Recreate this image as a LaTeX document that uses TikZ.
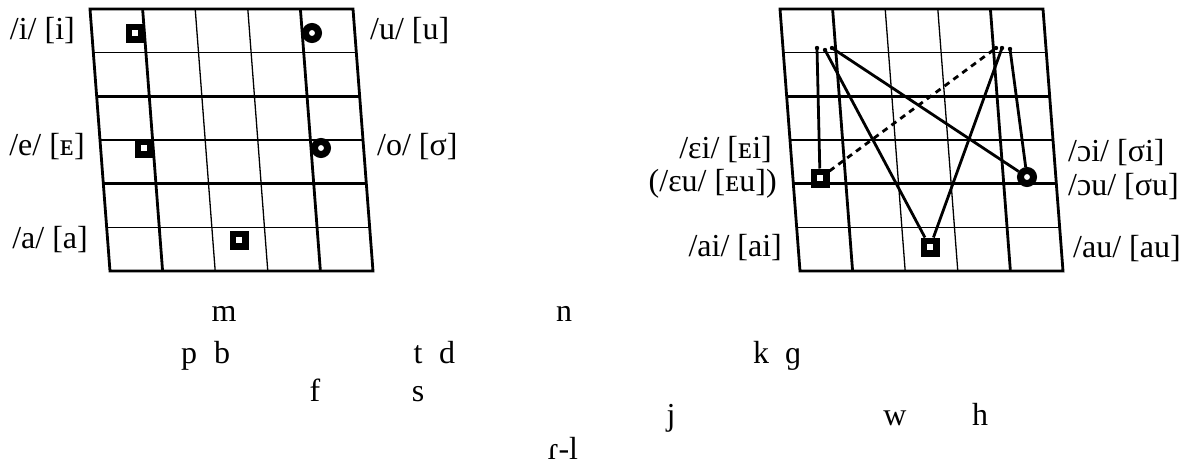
\documentclass[tikz,border=0pt]{standalone}
\usepackage{fontspec}
\setmainfont{Liberation Serif}
\usetikzlibrary{positioning}

\begin{document}
\begin{tikzpicture}[
        x=1pt, y=-1pt,
        vlabel/.style={font=\fontsize{32}{38}\selectfont, inner sep=0pt,
                       text height=21pt, text depth=5pt},
        cons/.style={font=\fontsize{32}{38}\selectfont, inner sep=0pt, anchor=base},
        thinline/.style={line width=1.3pt},
        thickline/.style={line width=2.8pt},
        link/.style={line width=2.8pt},
        sqmark/.style={rectangle, draw, fill=white, line width=6.5pt,
                       minimum size=12.5pt, inner sep=0pt},
        rdmark/.style={circle, draw, fill=white, line width=7pt,
                       minimum size=13pt, inner sep=0pt}
    ]
    \useasboundingbox (0,0) rectangle (1193,466);

    % the two vowel charts
    \foreach \gx in {90,780} {
        \begin{scope}[shift={(\gx,9)}, xslant=-0.0763]
            \foreach \r in {1,3,5}
                \draw[thinline] (0,\r*43.667) -- (263,\r*43.667);
            \foreach \c in {2,3}
                \draw[thinline] (\c*52.6,0) -- (\c*52.6,262);
            \foreach \r in {2,4}
                \draw[thickline] (0,\r*43.667) -- (263,\r*43.667);
            \foreach \c in {1,4}
                \draw[thickline] (\c*52.6,0) -- (\c*52.6,262);
            \draw[thickline] (0,0) rectangle (263,262);
        \end{scope}
    }

    % monophthongs
    \node[sqmark] (isq) at (135,33) {};
    \node[rdmark] (urd) at (312,33) {};
    \node[sqmark] (esq) at (144,148) {};
    \node[rdmark] (ord) at (321,148) {};
    \node[sqmark] (asq) at (239,240) {};

    \node[vlabel, anchor=east] (li) at (75,31) {/i/ [i]};
    \node[vlabel, anchor=west] (lu) at (370,31) {/u/ [u]};
    \node[vlabel, anchor=east] (le) at (85,147) {/e/ [ᴇ]};
    \node[vlabel, anchor=west] (lo) at (377,147) {/o/ [σ]};
    \node[vlabel, anchor=east] (la) at (88,240) {/a/ [a]};

    % diphthongs
    \node[sqmark] (eisq) at (820,178) {};
    \node[sqmark] (aisq) at (930,247) {};
    \node[rdmark] (oird) at (1027,177) {};

    \coordinate (t1) at (817,48);
    \coordinate (t2) at (825,50);
    \coordinate (t3) at (832,48);
    \coordinate (t4) at (996,48);
    \coordinate (t5) at (1002,48);
    \coordinate (t6) at (1010,49);

    \draw[link] (eisq) -- (t1);
    \draw[link] (aisq) -- (t2);
    \draw[link] (oird) -- (t3);
    \draw[link, dash pattern=on 6pt off 5pt] (eisq) -- (t4);
    \draw[link] (aisq) -- (t5);
    \draw[link] (oird) -- (t6);
    \foreach \t in {t1,t2,t3,t4,t5,t6}
        \fill (\t) circle[radius=2.2pt];

    \node[vlabel, anchor=east] (rei) at (772,150) {/ɛi/ [ᴇi]};
    \node[vlabel, anchor=east] (reu) at (777,183) {(/ɛu/ [ᴇu])};
    \node[vlabel, anchor=east] (rai) at (782,248) {/ai/ [ai]};
    \node[vlabel, anchor=west] (roi) at (1068,153) {/ɔi/ [σi]};
    \node[vlabel, anchor=west] (rou) at (1068,187) {/ɔu/ [σu]};
    \node[vlabel, anchor=west] (rau) at (1073,249) {/au/ [au]};

    % consonants
    \node[cons] (m) at (224,321) {m};
    \node[cons] (n) at (564,321) {n};
    \node[cons] (p) at (189,363) {p};
    \node[cons] (b) at (222,363) {b};
    \node[cons] (t) at (418,363) {t};
    \node[cons] (d) at (447,363) {d};
    \node[cons] (k) at (761,363) {k};
    \node[cons] (g) at (793,363) {ɡ};
    \node[cons] (f) at (315,401) {f};
    \node[cons] (s) at (418,401) {s};
    \node[cons] (j) at (671,425) {j};
    \node[cons] (w) at (895,425) {w};
    \node[cons] (h) at (980,425) {h};
    \node[cons] (rl) at (563,459) {ɾ-l};
\end{tikzpicture}
\end{document}
